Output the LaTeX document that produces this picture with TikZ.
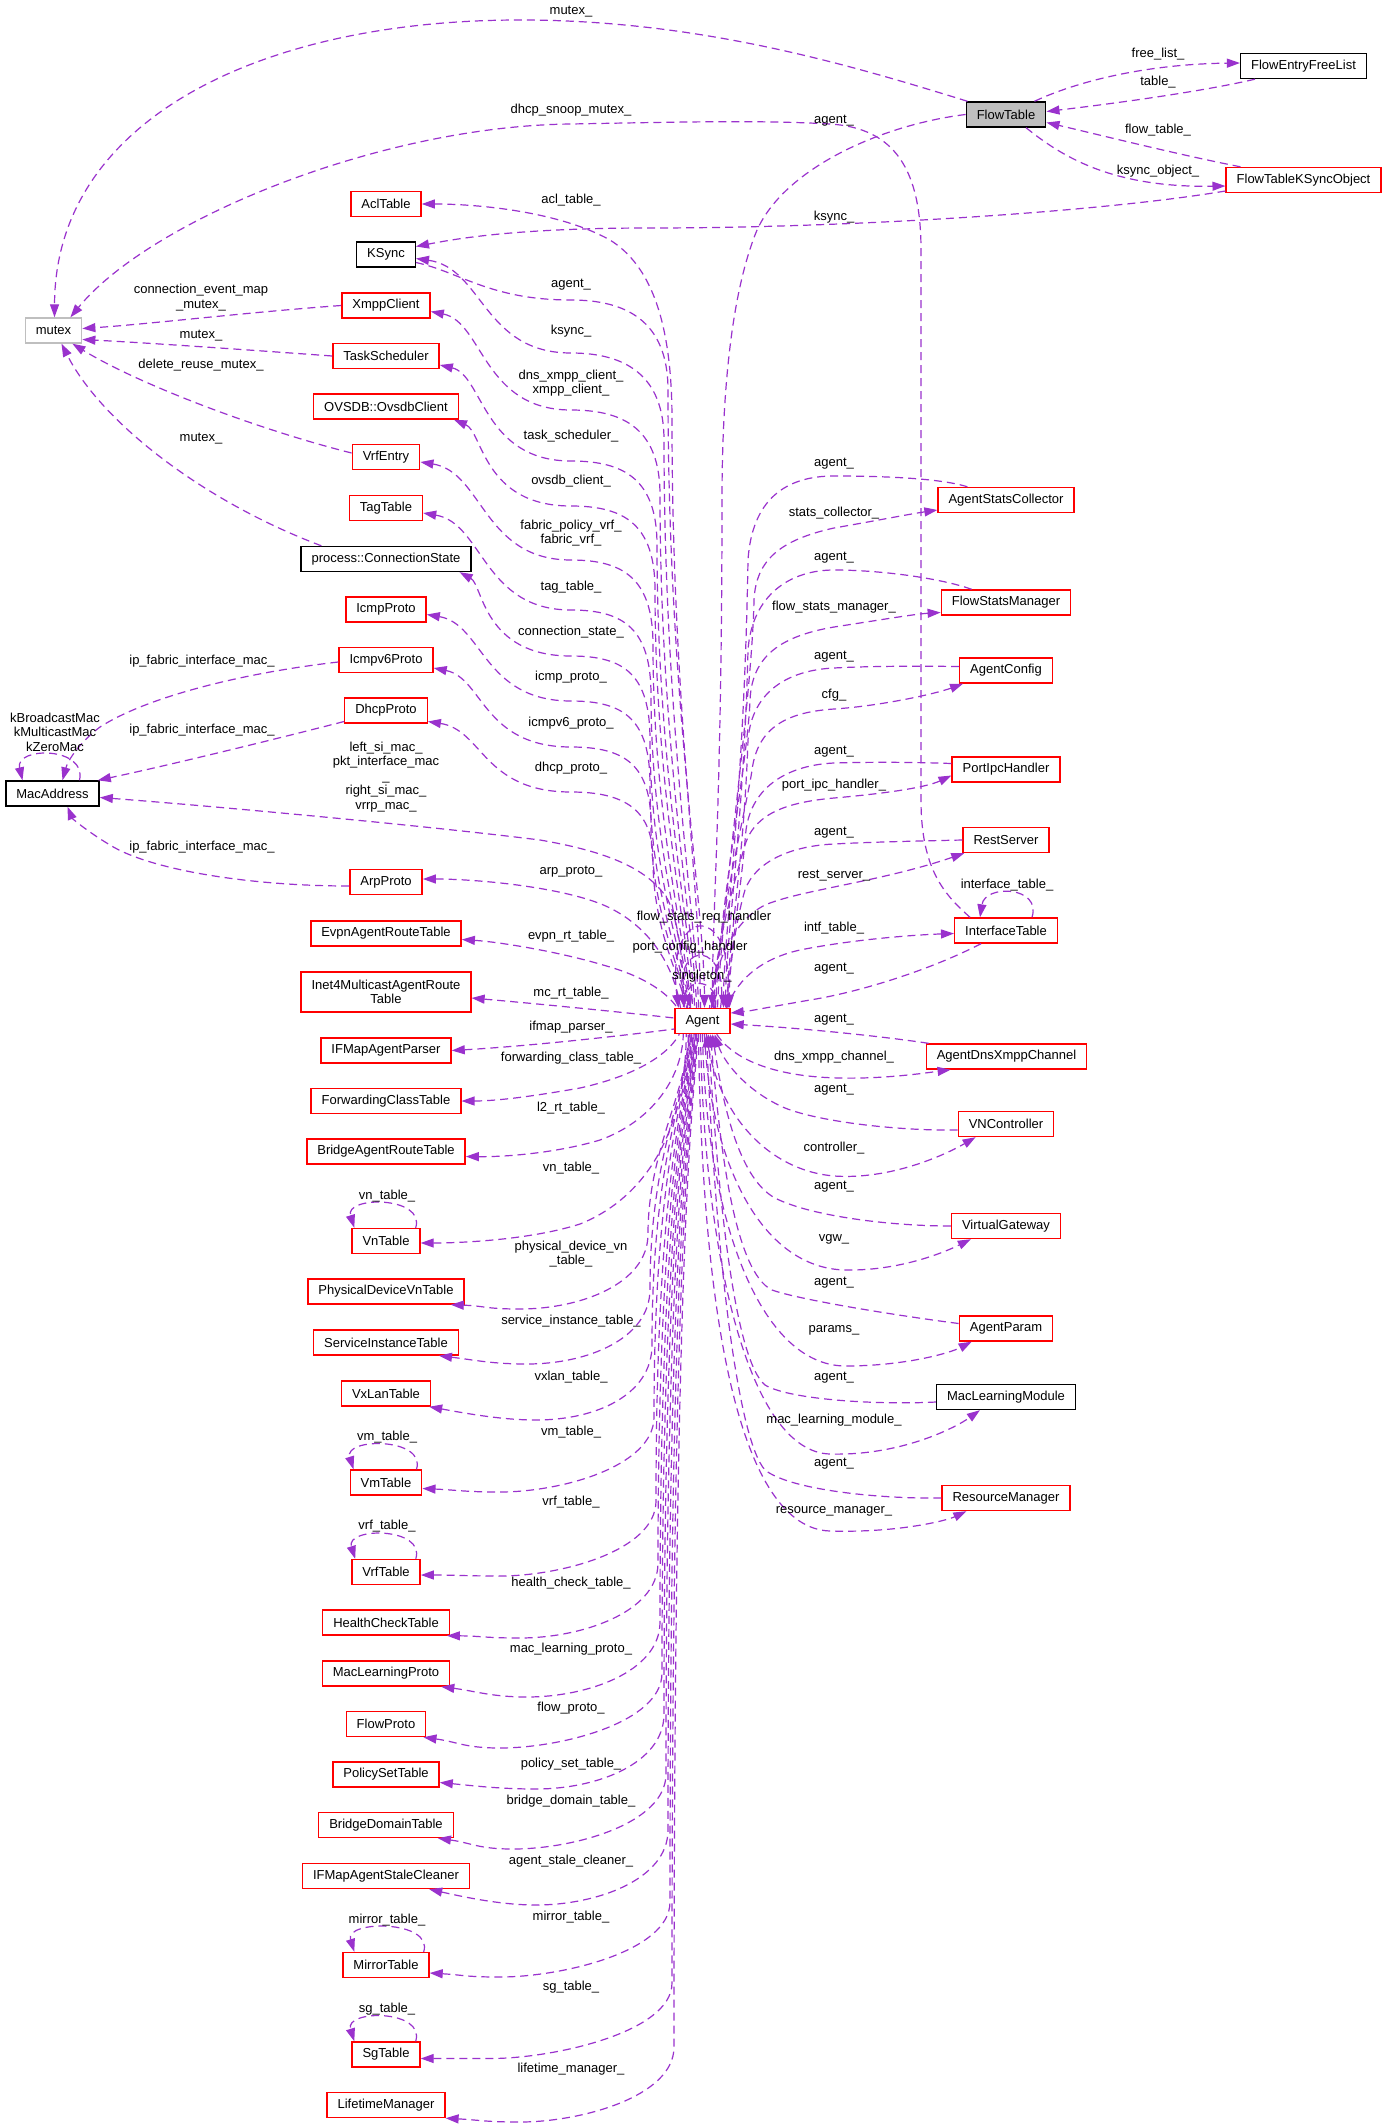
\documentclass[tikz,border=0pt]{standalone}
\usepackage{fontspec}
\setmainfont{Liberation Sans}
\usetikzlibrary{arrows.meta}
\definecolor{edgec}{HTML}{9A32CD}
\definecolor{nodered}{HTML}{FF0000}
\definecolor{nodegray}{HTML}{BFBFBF}
\newcommand\dxf{\fontsize{13}{14.5}\selectfont}
\begin{document}
\begin{tikzpicture}[x=1pt,y=-1pt,
  box/.style={draw, line width=1.4pt, minimum height=25pt, inner xsep=10.5pt, inner ysep=1pt, font=\dxf, align=center},
  rb/.style={box, draw=nodered},
  kb/.style={box, draw=black},
  gb/.style={box, draw=nodegray},
  lab/.style={font=\dxf, inner sep=0pt, align=center},
  dx/.style={draw=edgec, line width=1.2pt, dash pattern=on 8pt off 5pt, >={Triangle[length=13pt,width=9pt]}}
]
\useasboundingbox (0,0) rectangle (1386,2128);
\fill[white] (0,0) rectangle (1386,2128);

% ---------- nodes ----------
\node[kb, fill=nodegray] (flowtable) at (1006,114.5) {FlowTable};
\node[kb] (freelist) at (1303.5,66) {FlowEntryFreeList};
\node[rb] (ftk) at (1303.5,180) {FlowTableKSyncObject};
\node[gb] (mutex) at (53.5,330.5) {mutex};
\node[rb] (acl) at (386,204) {AclTable};
\node[kb] (ksync) at (386,254.5) {KSync};
\node[rb] (xmpp) at (386,305.5) {XmppClient};
\node[rb] (task) at (386,356) {TaskScheduler};
\node[rb] (ovsdb) at (386,406.5) {OVSDB::OvsdbClient};
\node[rb] (vrfentry) at (386,457) {VrfEntry};
\node[rb] (tag) at (386,508) {TagTable};
\node[kb] (conn) at (386,559) {process::ConnectionState};
\node[rb] (icmp) at (386,609.5) {IcmpProto};
\node[rb] (icmpv6) at (386,660) {Icmpv6Proto};
\node[rb] (dhcp) at (386,710.5) {DhcpProto};
\node[kb] (mac) at (52.5,793.5) {MacAddress};
\node[rb] (arp) at (386,882) {ArpProto};
\node[rb] (agent) at (702.5,1021) {Agent};

\node[rb] (asc) at (1006,500) {AgentStatsCollector};
\node[rb] (fsm) at (1006,602.5) {FlowStatsManager};
\node[rb] (ac) at (1006,670.5) {AgentConfig};
\node[rb] (pih) at (1006,769.5) {PortIpcHandler};
\node[rb] (rest) at (1006,840) {RestServer};
\node[rb] (it) at (1006,930.5) {InterfaceTable};
\node[rb] (adxc) at (1006.5,1056.5) {AgentDnsXmppChannel};
\node[rb] (vnc) at (1006,1124) {VNController};
\node[rb] (vg) at (1006,1226) {VirtualGateway};
\node[rb] (ap) at (1006,1328.5) {AgentParam};
\node[kb] (mlm) at (1006,1397) {MacLearningModule};
\node[rb] (rm) at (1006,1498) {ResourceManager};

\node[rb] (evpn) at (386,933.5) {EvpnAgentRouteTable};
\node[rb, minimum height=40pt] (inet4) at (386,992) {Inet4MulticastAgentRoute\\Table};
\node[rb] (ifmap) at (386,1050.5) {IFMapAgentParser};
\node[rb] (fwd) at (386,1101) {ForwardingClassTable};
\node[rb] (bridge) at (386,1151.5) {BridgeAgentRouteTable};
\node[rb] (vn) at (386,1241) {VnTable};
\node[rb] (physdev) at (386,1291.5) {PhysicalDeviceVnTable};
\node[rb] (svc) at (386,1342.5) {ServiceInstanceTable};
\node[rb] (vxlan) at (386,1393.5) {VxLanTable};
\node[rb] (vm) at (386,1482.5) {VmTable};
\node[rb] (vrf) at (386,1572) {VrfTable};
\node[rb] (health) at (386,1622.5) {HealthCheckTable};
\node[rb] (mlp) at (386,1673.5) {MacLearningProto};
\node[rb] (flowproto) at (386,1724) {FlowProto};
\node[rb] (ps) at (386,1774.5) {PolicySetTable};
\node[rb] (bd) at (386,1825) {BridgeDomainTable};
\node[rb] (ifs) at (386,1876) {IFMapAgentStaleCleaner};
\node[rb] (mirror) at (386,1965) {MirrorTable};
\node[rb] (sg) at (386,2054.5) {SgTable};
\node[rb] (lifetime) at (386,2105) {LifetimeManager};

% ---------- top edges ----------
\draw[dx,->] ([xshift=2pt]flowtable.north west) .. controls (850,65) and (700,20) .. (520,20) .. controls (260,20) and (55,120) .. ([xshift=1pt]mutex.north);
\draw[dx,->] ([xshift=-36pt]it.north) .. controls (945,895) and (921,870) .. (921,800) -- (921,250) .. controls (921,170) and (895,128) .. (830,124) .. controls (760,120) and (680,122) .. (571,124) .. controls (380,126) and (150,220) .. ([xshift=-12pt]mutex.north east);
\draw[dx,->] (flowtable.west) .. controls (880,125) and (780,170) .. (755,235) .. controls (730,300) and (722,400) .. (722,500) .. controls (722,800) and (712,920) .. ([xshift=10pt]agent.north);
\draw[dx,->] ([xshift=-12pt]flowtable.north east) .. controls (1080,80) and (1150,64) .. ([yshift=3pt]freelist.west);
\draw[dx,->] ([xshift=15pt]freelist.south west) .. controls (1200,92) and (1110,104) .. ([yshift=3pt]flowtable.east);
\draw[dx,->] ([xshift=15pt]ftk.north west) .. controls (1180,155) and (1100,135) .. ([yshift=-8pt]flowtable.east);
\draw[dx,->] ([xshift=20pt]flowtable.south) .. controls (1060,155) and (1110,188) .. ([yshift=-6pt]ftk.west);
\draw[dx,->] ([yshift=-11pt]ftk.west) .. controls (1100,212) and (850,228) .. (650,228) .. controls (520,228) and (460,238) .. ([yshift=8pt]ksync.east);

% ---------- edges to mutex ----------
\draw[dx,->] (xmpp.west) .. controls (250,312) and (150,324) .. ([yshift=2pt]mutex.east);
\draw[dx,->] (task.west) .. controls (250,350) and (150,343) .. ([yshift=-9pt]mutex.east);
\draw[dx,->] ([yshift=4pt]vrfentry.west) .. controls (260,430) and (140,385) .. ([xshift=-10pt]mutex.south east);
\draw[dx,->] ([xshift=21pt]conn.north west) .. controls (200,500) and (100,420) .. ([xshift=8pt]mutex.south);

% ---------- MacAddress ----------
\draw[dx,->] ([yshift=-2pt]icmpv6.west) .. controls (250,672) and (150,695) .. (100,727) .. controls (80,742) and (68,760) .. ([xshift=10pt]mac.north);
\draw[dx,->] ([yshift=-11pt]dhcp.west) .. controls (280,738) and (170,765) .. ([xshift=-2pt]mac.north east);
\draw[dx,->] ([yshift=-4pt]arp.west) .. controls (250,886) and (150,870) .. (110,845) .. controls (85,830) and (72,818) .. ([xshift=15pt]mac.south);
\draw[dx,->] ([xshift=27pt]mac.north) .. controls +(8,-34) and +(-8,-34) .. ([xshift=-30pt]mac.north);

% ---------- upper-left edges to Agent ----------
\draw[dx,<-] (acl.east) .. controls (480,204) and (560,212) .. (610,240) .. controls (650,265) and (672,320) .. (672,420) .. controls (672,700) and (700,880) .. ([xshift=-2pt]agent.north);
\draw[dx,->] ([yshift=-8pt]ksync.east) .. controls (460,272) and (490,300) .. (571,300) .. controls (625,300) and (668,320) .. (668,390) .. controls (668,700) and (704,900) .. ([xshift=2pt]agent.north);
\draw[dx,<-] ([yshift=-4pt]ksync.east) .. controls (483,268) and (483,353) .. (571,353) .. controls (625,353) and (664,375) .. (664,440) .. controls (664,724) and (698,937) .. ([xshift=-4pt]agent.north);
\draw[dx,<-] ([yshift=-6pt]xmpp.east) .. controls (483,322) and (483,410) .. (571,410) .. controls (625,410) and (660,430) .. (660,495) .. controls (660,750) and (696,945) .. ([xshift=-6pt]agent.north);
\draw[dx,<-] ([yshift=-9pt]task.east) .. controls (483,375) and (483,461) .. (571,461) .. controls (625,461) and (657,480) .. (657,545) .. controls (657,776) and (694,950) .. ([xshift=-8pt]agent.north);
\draw[dx,<-] ([xshift=-5pt]ovsdb.south east) .. controls (483,432) and (483,506) .. (571,506) .. controls (625,506) and (655,525) .. (655,590) .. controls (655,800) and (692,955) .. ([xshift=-10pt]agent.north);
\draw[dx,<-] ([yshift=-5pt]vrfentry.east) .. controls (483,472) and (483,560) .. (571,560) .. controls (625,560) and (653,580) .. (653,645) .. controls (653,826) and (690,960) .. ([xshift=-12pt]agent.north);
\draw[dx,<-] ([yshift=-5pt]tag.east) .. controls (483,523) and (483,610) .. (571,610) .. controls (625,610) and (651,630) .. (651,695) .. controls (651,850) and (689,965) .. ([xshift=-13pt]agent.north);
\draw[dx,<-] ([xshift=-12pt]conn.south east) .. controls (483,585) and (483,656) .. (571,656) .. controls (625,656) and (650,675) .. (650,740) .. controls (650,875) and (688,970) .. ([xshift=-14pt]agent.north);
\draw[dx,<-] ([yshift=-5pt]icmp.east) .. controls (483,624) and (483,701) .. (571,701) .. controls (625,701) and (650,720) .. (650,785) .. controls (650,896) and (687,975) .. ([xshift=-15pt]agent.north);
\draw[dx,<-] ([yshift=-8pt]icmpv6.east) .. controls (483,678) and (483,747) .. (571,747) .. controls (625,747) and (651,765) .. (651,825) .. controls (651,916) and (686,980) .. ([xshift=-16pt]agent.north);
\draw[dx,<-] ([yshift=-11pt]dhcp.east) .. controls (483,730) and (483,792) .. (571,792) .. controls (625,792) and (653,810) .. (653,860) .. controls (653,935) and (685,985) .. ([xshift=-17pt]agent.north);
\draw[dx,<-] ([yshift=-4pt]mac.east) .. controls (200,805) and (420,825) .. (540,840) .. controls (610,852) and (650,870) .. (668,900) .. controls (680,925) and (684,970) .. ([xshift=-19pt]agent.north);
\draw[dx,<-] ([yshift=3pt]arp.east) .. controls (480,879) and (570,888) .. (610,908) .. controls (650,928) and (674,965) .. ([xshift=-22pt]agent.north);

% ---------- Agent self loops ----------
\draw[dx,->] ([xshift=12pt]agent.north) .. controls +(6,-30) and +(-6,-30) .. ([xshift=-12pt]agent.north);
\draw[dx,->] ([xshift=18pt]agent.north) .. controls +(10,-68) and +(-10,-68) .. ([xshift=-18pt]agent.north);
\draw[dx,->] ([xshift=24pt]agent.north) .. controls +(14,-107) and +(-14,-107) .. ([xshift=-24pt]agent.north);

% ---------- upper-right edges ----------
\draw[dx,->] ([xshift=30pt]asc.north west) .. controls (940,478) and (880,476) .. (834,476) .. controls (785,476) and (752,500) .. (748,560) .. controls (744,800) and (724,930) .. ([xshift=21pt]agent.north);
\draw[dx,<-] ([yshift=-10pt]asc.west) .. controls (910,514) and (880,520) .. (834,528) .. controls (780,540) and (756,560) .. (754,600) .. controls (752,700) and (722,900) .. ([xshift=15pt]agent.north);
\draw[dx,->] ([xshift=31pt]fsm.north west) .. controls (940,578) and (880,570) .. (834,570) .. controls (790,570) and (752,595) .. (748,650) .. controls (744,820) and (726,940) .. ([xshift=23pt]agent.north);
\draw[dx,<-] ([yshift=-10pt]fsm.west) .. controls (915,614) and (880,620) .. (834,627) .. controls (775,637) and (752,660) .. (750,700) .. controls (748,760) and (720,900) .. ([xshift=13pt]agent.north);
\draw[dx,->] ([yshift=4pt]ac.west) .. controls (920,666) and (870,666) .. (834,668) .. controls (790,670) and (752,690) .. (748,740) .. controls (744,860) and (728,950) .. ([xshift=25pt]agent.north);
\draw[dx,<-] ([xshift=4pt]ac.south west) .. controls (935,694) and (880,706) .. (834,709) .. controls (790,712) and (758,725) .. (752,770) .. controls (748,800) and (718,920) .. ([xshift=11pt]agent.north);
\draw[dx,->] ([yshift=6pt]pih.west) .. controls (910,762) and (870,762) .. (834,763) .. controls (790,765) and (752,785) .. (746,830) .. controls (740,900) and (729,960) .. ([xshift=26pt]agent.north);
\draw[dx,<-] ([yshift=-6pt]pih.west) .. controls (925,788) and (880,794) .. (834,798) .. controls (790,802) and (755,812) .. (745,845) .. controls (738,870) and (716,940) .. ([xshift=9pt]agent.north);
\draw[dx,->] (rest.west) .. controls (920,841) and (870,842) .. (834,844) .. controls (790,846) and (755,862) .. (745,890) .. controls (736,920) and (729,970) .. ([xshift=27pt]agent.north);
\draw[dx,<-] ([xshift=2pt]rest.south west) .. controls (880,882) and (800,890) .. (765,905) .. controls (735,920) and (715,960) .. ([xshift=7pt]agent.north);
\draw[dx,<-] ([yshift=-3pt]it.west) .. controls (910,935) and (850,940) .. (800,950) .. controls (755,960) and (735,985) .. ([xshift=-4pt]agent.north east);
\draw[dx,->] ([xshift=-25pt]it.south) .. controls (930,970) and (860,992) .. (810,1000) .. controls (775,1006) and (750,1011) .. ([yshift=8pt]agent.east);
\draw[dx,->] ([xshift=26pt]it.north) .. controls (1042,886) and (985,884) .. ([xshift=-26pt]it.north);

% ---------- lower-right edges ----------
\draw[dx,->] ([xshift=3pt]adxc.north west) .. controls (880,1036) and (800,1028) .. ([yshift=-3pt]agent.east);
\draw[dx,->] ([xshift=-14pt]agent.south east) .. controls (735,1062) and (780,1077) .. (840,1078) .. controls (885,1079) and (925,1073) .. ([xshift=25pt]adxc.south west);
\draw[dx,->] ([yshift=-6pt]vnc.west) .. controls (900,1131) and (820,1122) .. (785,1108) .. controls (750,1093) and (725,1065) .. ([xshift=12pt]agent.south);
\draw[dx,->] ([xshift=4pt]agent.south) .. controls (715,1110) and (765,1170) .. (834,1176) .. controls (890,1180) and (945,1155) .. ([xshift=18pt]vnc.south west);
\draw[dx,->] (vg.west) .. controls (890,1226) and (810,1216) .. (775,1198) .. controls (738,1178) and (722,1100) .. ([xshift=10pt]agent.south);
\draw[dx,->] ([xshift=2pt]agent.south) .. controls (710,1160) and (760,1268) .. (845,1270) .. controls (900,1271) and (945,1252) .. ([xshift=20pt]vg.south west);
\draw[dx,->] ([yshift=5pt]ap.west) .. controls (900,1316) and (800,1300) .. (772,1290) .. controls (735,1272) and (720,1150) .. ([xshift=8pt]agent.south);
\draw[dx,->] (agent.south) .. controls (706,1220) and (760,1365) .. (845,1366) .. controls (905,1366) and (950,1353) .. ([xshift=13pt]ap.south west);
\draw[dx,->] ([yshift=-5pt]mlm.west) .. controls (880,1405) and (790,1400) .. (765,1385) .. controls (735,1360) and (718,1200) .. ([xshift=6pt]agent.south);
\draw[dx,->] ([xshift=-2pt]agent.south) .. controls (704,1260) and (750,1452) .. (830,1454) .. controls (900,1456) and (955,1428) .. ([xshift=44pt]mlm.south west);
\draw[dx,->] (rm.west) .. controls (880,1499) and (790,1490) .. (765,1470) .. controls (738,1440) and (716,1260) .. ([xshift=4pt]agent.south);
\draw[dx,->] ([xshift=-4pt]agent.south) .. controls (702,1320) and (740,1528) .. (830,1531) .. controls (900,1533) and (948,1520) .. ([xshift=25pt]rm.south west);

% ---------- lower-left edges ----------
\draw[dx,<-] ([yshift=-6pt]evpn.east) .. controls (500,942) and (560,952) .. (603,965) .. controls (640,975) and (665,990) .. ([xshift=3pt]agent.north west);
\draw[dx,<-] ([yshift=-6pt]inet4.east) .. controls (540,1004) and (620,1012) .. ([yshift=3pt]agent.west);
\draw[dx,<-] (ifmap.east) .. controls (530,1046) and (620,1036) .. ([yshift=-8pt]agent.west);
\draw[dx,<-] (fwd.east) .. controls (500,1101) and (540,1095) .. (580,1088) .. controls (625,1078) and (665,1060) .. ([xshift=5pt]agent.south west);
\draw[dx,<-] ([yshift=-5pt]bridge.east) .. controls (510,1157) and (560,1152) .. (600,1140) .. controls (650,1122) and (682,1080) .. ([xshift=9pt]agent.south west);
\draw[dx,<-] ([yshift=-2pt]vn.east) .. controls (460,1243) and (530,1240) .. (580,1224) .. controls (640,1200) and (685,1140) .. ([xshift=12pt]agent.south west);
\draw[dx,<-] ([xshift=-14pt]physdev.south east) .. controls (486,1306) and (485,1309) .. (520,1309) .. controls (580,1309) and (648,1284) .. (648,1234) .. controls (648,1150) and (688,1090) .. ([xshift=14pt]agent.south west);
\draw[dx,<-] ([xshift=-20pt]svc.south east) .. controls (475,1360) and (492,1364) .. (527,1364) .. controls (587,1364) and (650,1339) .. (650,1289) .. controls (650,1150) and (688.7,1090) .. ([xshift=14.7pt]agent.south west);
\draw[dx,<-] ([xshift=-2pt]vxlan.south east) .. controls (464,1413) and (501,1420) .. (536,1420) .. controls (596,1420) and (652,1395) .. (652,1345) .. controls (652,1150) and (689.4,1090) .. ([xshift=15.4pt]agent.south west);
\draw[dx,<-] ([yshift=-6pt]vm.east) .. controls (457,1490) and (465,1492) .. (500,1492) .. controls (560,1492) and (654,1467) .. (654,1417) .. controls (654,1150) and (690.1,1090) .. ([xshift=16.1pt]agent.south west);
\draw[dx,<-] ([yshift=-3pt]vrf.east) .. controls (456,1575) and (465,1576) .. (500,1576) .. controls (560,1576) and (656,1551) .. (656,1501) .. controls (656,1150) and (690.8,1090) .. ([xshift=16.8pt]agent.south west);
\draw[dx,<-] ([xshift=-3pt]health.south east) .. controls (482,1636) and (485,1638) .. (520,1638) .. controls (580,1638) and (658,1613) .. (658,1563) .. controls (658,1150) and (691.5,1090) .. ([xshift=17.5pt]agent.south west);
\draw[dx,<-] ([xshift=-9pt]mlp.south east) .. controls (475,1691) and (492,1697) .. (527,1697) .. controls (587,1697) and (660,1672) .. (660,1622) .. controls (660,1150) and (692.2,1090) .. ([xshift=18.2pt]agent.south west);
\draw[dx,<-] ([xshift=-3pt]flowproto.south east) .. controls (458,1742) and (465,1748) .. (500,1748) .. controls (560,1748) and (662,1723) .. (662,1673) .. controls (662,1150) and (692.9,1090) .. ([xshift=18.9pt]agent.south west);
\draw[dx,<-] ([yshift=-8pt]ps.east) .. controls (476,1786) and (501,1789) .. (536,1789) .. controls (596,1789) and (664,1764) .. (664,1714) .. controls (664,1150) and (693.6,1090) .. ([xshift=19.6pt]agent.south west);
\draw[dx,<-] ([xshift=-16pt]bd.south east) .. controls (472,1843) and (478,1849) .. (513,1849) .. controls (573,1849) and (666,1824) .. (666,1774) .. controls (666,1150) and (694.3,1090) .. ([xshift=20.3pt]agent.south west);
\draw[dx,<-] ([xshift=-41pt]ifs.south east) .. controls (464,1897) and (501,1905) .. (536,1905) .. controls (596,1905) and (668,1880) .. (668,1830) .. controls (668,1150) and (695,1090) .. ([xshift=21pt]agent.south west);
\draw[dx,<-] ([yshift=-8pt]mirror.east) .. controls (464,1975) and (465,1977) .. (500,1977) .. controls (560,1977) and (670,1952) .. (670,1902) .. controls (670,1150) and (695.7,1090) .. ([xshift=21.7pt]agent.south west);
\draw[dx,<-] ([yshift=-4pt]sg.east) .. controls (455,2058.5) and (456,2058.5) .. (491,2058.5) .. controls (551,2058.5) and (672,2033) .. (672,1983) .. controls (672,1150) and (696.4,1090) .. ([xshift=22.4pt]agent.south west);
\draw[dx,<-] (lifetime.south east) .. controls (480,2120) and (485,2122) .. (520,2122) .. controls (580,2122) and (674,2097) .. (674,2047) .. controls (674,1150) and (697.1,1090) .. ([xshift=23.1pt]agent.south west);

% ---------- self loops on left tables ----------
\draw[dx,->] ([xshift=-5pt]vn.north east) .. controls +(10,-32) and +(-10,-32) .. ([xshift=3pt]vn.north west);
\draw[dx,->] ([xshift=-6pt]vm.north east) .. controls +(10,-32) and +(-10,-32) .. ([xshift=4pt]vm.north west);
\draw[dx,->] ([xshift=-5pt]vrf.north east) .. controls +(10,-32) and +(-10,-32) .. ([xshift=4pt]vrf.north west);
\draw[dx,->] ([xshift=-6pt]mirror.north east) .. controls +(10,-32) and +(-10,-32) .. ([xshift=12pt]mirror.north west);
\draw[dx,->] ([xshift=-5pt]sg.north east) .. controls +(10,-32) and +(-10,-32) .. ([xshift=3pt]sg.north west);

% ---------- labels ----------
\node[lab] (l01) at (571,12) {mutex\_};
\node[lab] (l02) at (571,110) {dhcp\_snoop\_mutex\_};
\node[lab] (l03) at (834,121) {agent\_};
\node[lab] (l04) at (1158,54) {free\_list\_};
\node[lab] (l05) at (1158,82) {table\_};
\node[lab] (l06) at (1158,130) {flow\_table\_};
\node[lab] (l07) at (1158,171) {ksync\_object\_};
\node[lab] (l08) at (834,217) {ksync\_};
\node[lab] (l09) at (571,200) {acl\_table\_};
\node[lab] (l10) at (571,285) {agent\_};
\node[lab] (l11) at (571,331) {ksync\_};
\node[lab] (l12) at (571,383) {dns\_xmpp\_client\_\\xmpp\_client\_};
\node[lab] (l13) at (571,436) {task\_scheduler\_};
\node[lab] (l14) at (571,481) {ovsdb\_client\_};
\node[lab] (l15) at (571,533) {fabric\_policy\_vrf\_\\fabric\_vrf\_};
\node[lab] (l16) at (571,587) {tag\_table\_};
\node[lab] (l17) at (571,632) {connection\_state\_};
\node[lab] (l18) at (571,677) {icmp\_proto\_};
\node[lab] (l19) at (571,723) {icmpv6\_proto\_};
\node[lab] (l20) at (571,768) {dhcp\_proto\_};
\node[lab] (l21) at (571,872) {arp\_proto\_};
\node[lab] (l22) at (386,777) {left\_si\_mac\_\\pkt\_interface\_mac\\\_\\right\_si\_mac\_\\vrrp\_mac\_};
\node[lab] (l23) at (201,297.5) {connection\_event\_map\\\_mutex\_};
\node[lab] (l24) at (201,336) {mutex\_};
\node[lab] (l25) at (201,365) {delete\_reuse\_mutex\_};
\node[lab] (l26) at (201,439) {mutex\_};
\node[lab] (l27) at (202,661) {ip\_fabric\_interface\_mac\_};
\node[lab] (l28) at (202,730) {ip\_fabric\_interface\_mac\_};
\node[lab] (l29) at (202,847) {ip\_fabric\_interface\_mac\_};
\node[lab] (l30) at (55,732) {kBroadcastMac\\kMulticastMac\\kZeroMac};

\node[lab] (r01) at (834,464) {agent\_};
\node[lab] (r02) at (834,513) {stats\_collector\_};
\node[lab] (r03) at (834,558) {agent\_};
\node[lab] (r04) at (834,607) {flow\_stats\_manager\_};
\node[lab] (r05) at (834,657) {agent\_};
\node[lab] (r06) at (834,695) {cfg\_};
\node[lab] (r07) at (834,752) {agent\_};
\node[lab] (r08) at (834,785) {port\_ipc\_handler\_};
\node[lab] (r09) at (834,833) {agent\_};
\node[lab] (r10) at (834,876) {rest\_server\_};
\node[lab] (r11) at (1007,885) {interface\_table\_};
\node[lab] (r12) at (834,928) {intf\_table\_};
\node[lab] (r13) at (834,969) {agent\_};
\node[lab] (r14) at (834,1020) {agent\_};
\node[lab] (r15) at (834,1057) {dns\_xmpp\_channel\_};
\node[lab] (r16) at (834,1090) {agent\_};
\node[lab] (r17) at (834,1148) {controller\_};
\node[lab] (r18) at (834,1187) {agent\_};
\node[lab] (r19) at (834,1239) {vgw\_};
\node[lab] (r20) at (834,1283) {agent\_};
\node[lab] (r21) at (834,1330) {params\_};
\node[lab] (r22) at (834,1378) {agent\_};
\node[lab] (r23) at (834,1420) {mac\_learning\_module\_};
\node[lab] (r24) at (834,1464) {agent\_};
\node[lab] (r25) at (834,1511) {resource\_manager\_};

\node[lab] (a01) at (704,917) {flow\_stats\_req\_handler};
\node[lab] (a02) at (690,947) {port\_config\_handler};
\node[lab] (a03) at (702,976) {singleton\_};

\node[lab] (b01) at (571,936) {evpn\_rt\_table\_};
\node[lab] (b02) at (571,993) {mc\_rt\_table\_};
\node[lab] (b03) at (571,1027) {ifmap\_parser\_};
\node[lab] (b04) at (571,1058) {forwarding\_class\_table\_};
\node[lab] (b05) at (571,1108) {l2\_rt\_table\_};
\node[lab] (b06) at (571,1168) {vn\_table\_};
\node[lab] (b07) at (387,1196) {vn\_table\_};
\node[lab] (b08) at (571,1254) {physical\_device\_vn\\\_table\_};
\node[lab] (b09) at (571,1321) {service\_instance\_table\_};
\node[lab] (b10) at (571,1377) {vxlan\_table\_};
\node[lab] (b11) at (571,1432) {vm\_table\_};
\node[lab] (b12) at (387,1437) {vm\_table\_};
\node[lab] (b13) at (571,1502) {vrf\_table\_};
\node[lab] (b14) at (387,1526) {vrf\_table\_};
\node[lab] (b15) at (571,1583) {health\_check\_table\_};
\node[lab] (b16) at (571,1649) {mac\_learning\_proto\_};
\node[lab] (b17) at (571,1708) {flow\_proto\_};
\node[lab] (b18) at (571,1764) {policy\_set\_table\_};
\node[lab] (b19) at (571,1801) {bridge\_domain\_table\_};
\node[lab] (b20) at (571,1861) {agent\_stale\_cleaner\_};
\node[lab] (b21) at (571,1917) {mirror\_table\_};
\node[lab] (b22) at (387,1920) {mirror\_table\_};
\node[lab] (b23) at (571,1987) {sg\_table\_};
\node[lab] (b24) at (387,2009) {sg\_table\_};
\node[lab] (b25) at (571,2069) {lifetime\_manager\_};
\end{tikzpicture}
\end{document}
